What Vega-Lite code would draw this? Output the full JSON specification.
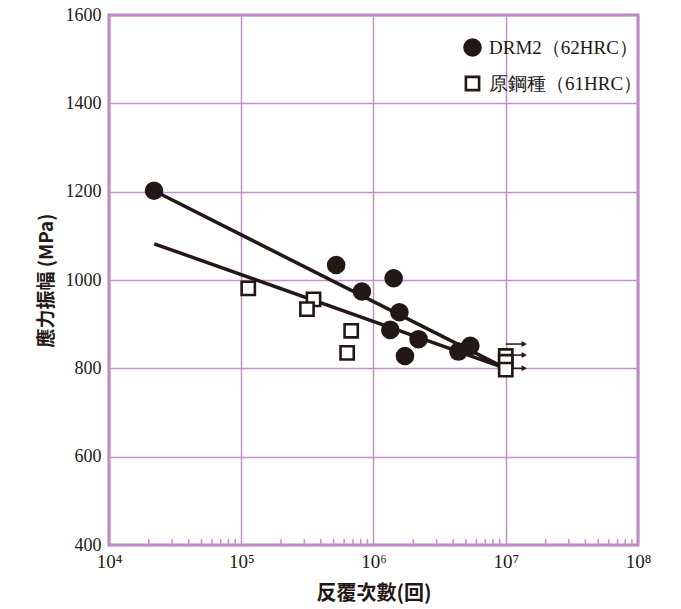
{
  "$schema": "https://vega.github.io/schema/vega-lite/v6.json",
  "width": 529,
  "height": 530,
  "autosize": {"type": "none"},
  "padding": {"left": 109, "top": 15, "right": 43, "bottom": 64},
  "background": "white",
  "datasets": {
    "points": [
      {"N": 21900, "S": 1202, "material": "DRM2（62HRC）"},
      {"N": 522000, "S": 1034, "material": "DRM2（62HRC）"},
      {"N": 1420000, "S": 1004, "material": "DRM2（62HRC）"},
      {"N": 817000, "S": 974, "material": "DRM2（62HRC）"},
      {"N": 1570000, "S": 927, "material": "DRM2（62HRC）"},
      {"N": 1340000, "S": 887, "material": "DRM2（62HRC）"},
      {"N": 2190000, "S": 866, "material": "DRM2（62HRC）"},
      {"N": 1730000, "S": 828, "material": "DRM2（62HRC）"},
      {"N": 5400000, "S": 851, "material": "DRM2（62HRC）"},
      {"N": 4390000, "S": 838, "material": "DRM2（62HRC）"},
      {"N": 113000, "S": 981, "material": "原鋼種（61HRC）"},
      {"N": 352000, "S": 956, "material": "原鋼種（61HRC）"},
      {"N": 314000, "S": 934, "material": "原鋼種（61HRC）"},
      {"N": 678000, "S": 885, "material": "原鋼種（61HRC）"},
      {"N": 632000, "S": 835, "material": "原鋼種（61HRC）"},
      {"N": 10000000, "S": 828, "material": "原鋼種（61HRC）"},
      {"N": 10000000, "S": 815, "material": "原鋼種（61HRC）"},
      {"N": 10000000, "S": 797, "material": "原鋼種（61HRC）"}
    ],
    "fits": [
      {"N": 21900, "S": 1202, "line": "DRM2"},
      {"N": 10000000, "S": 800, "line": "DRM2"},
      {"N": 22000, "S": 1082, "line": "base"},
      {"N": 10000000, "S": 800, "line": "base"}
    ],
    "arrows": [
      {"N": 10000000, "N1": 13800000, "S": 855},
      {"N": 10000000, "N1": 13800000, "S": 830},
      {"N": 10000000, "N1": 13800000, "S": 800}
    ],
    "minor": [
      {"N": 20000}, {"N": 30000}, {"N": 40000}, {"N": 50000}, {"N": 60000}, {"N": 70000}, {"N": 80000}, {"N": 90000},
      {"N": 200000}, {"N": 300000}, {"N": 400000}, {"N": 500000}, {"N": 600000}, {"N": 700000}, {"N": 800000}, {"N": 900000},
      {"N": 2000000}, {"N": 3000000}, {"N": 4000000}, {"N": 5000000}, {"N": 6000000}, {"N": 7000000}, {"N": 8000000}, {"N": 9000000},
      {"N": 20000000}, {"N": 30000000}, {"N": 40000000}, {"N": 50000000}, {"N": 60000000}, {"N": 70000000}, {"N": 80000000}, {"N": 90000000}
    ]
  },
  "layer": [
    {
      "data": {"name": "minor"},
      "mark": {"type": "rule", "color": "#c291ca", "strokeWidth": 1.5},
      "encoding": {
        "x": {
          "field": "N", "type": "quantitative",
          "scale": {"type": "log", "domain": [10000, 100000000]},
          "axis": {
            "title": "反覆次數(回)",
            "values": [10000, 100000, 1000000, 10000000, 100000000],
            "labelExpr": "'10' + ['⁰','¹','²','³','⁴','⁵','⁶','⁷','⁸'][round(log(datum.value)/LN10)]",
            "labelFont": "Liberation Serif",
            "labelFontSize": 19,
            "labelColor": "#231815",
            "labelPadding": 7,
            "titleFont": "Noto Sans CJK TC",
            "titleFontWeight": "bold",
            "titleFontSize": 20,
            "titleColor": "#231815",
            "titlePadding": 12,
            "grid": true,
            "labelFlush": false,
            "labelOverlap": false
          }
        },
        "y": {
          "datum": 400, "type": "quantitative",
          "scale": {"domain": [400, 1600]},
          "axis": {
            "title": "應力振幅 (MPa)",
            "values": [400, 600, 800, 1000, 1200, 1400, 1600],
            "format": "d",
            "labelFont": "Liberation Serif",
            "labelFontSize": 18,
            "labelColor": "#231815",
            "labelPadding": 8,
            "titleFont": "Noto Sans CJK TC",
            "titleFontWeight": "bold",
            "titleFontSize": 19,
            "titleColor": "#231815",
            "titlePadding": 9,
            "grid": true,
            "labelFlush": false,
            "labelOverlap": false
          }
        },
        "y2": {"datum": 413.5}
      }
    },
    {
      "data": {"name": "fits"},
      "mark": {"type": "line", "color": "#231815", "strokeWidth": 3.5},
      "encoding": {
        "x": {"field": "N", "type": "quantitative"},
        "y": {"field": "S", "type": "quantitative"},
        "detail": {"field": "line"}
      }
    },
    {
      "data": {"name": "arrows"},
      "mark": {"type": "rule", "color": "#231815", "strokeWidth": 1.5},
      "encoding": {
        "x": {"field": "N", "type": "quantitative"},
        "x2": {"field": "N1"},
        "y": {"field": "S", "type": "quantitative"}
      }
    },
    {
      "data": {"name": "arrows"},
      "mark": {"type": "point", "shape": "triangle-right", "filled": true, "color": "#231815", "size": 36, "opacity": 1},
      "encoding": {
        "x": {"field": "N1", "type": "quantitative"},
        "y": {"field": "S", "type": "quantitative"}
      }
    },
    {
      "data": {"name": "points"},
      "mark": {"type": "point", "filled": true, "strokeWidth": 2.6, "opacity": 1},
      "encoding": {
        "x": {"field": "N", "type": "quantitative"},
        "y": {"field": "S", "type": "quantitative"},
        "shape": {
          "field": "material", "type": "nominal",
          "scale": {"domain": ["DRM2（62HRC）", "原鋼種（61HRC）"], "range": ["circle", "square"]}
        },
        "fill": {
          "field": "material", "type": "nominal",
          "scale": {"domain": ["DRM2（62HRC）", "原鋼種（61HRC）"], "range": ["#231815", "#ffffff"]}
        },
        "stroke": {
          "field": "material", "type": "nominal",
          "scale": {"domain": ["DRM2（62HRC）", "原鋼種（61HRC）"], "range": ["#231815", "#231815"]}
        },
        "size": {
          "field": "material", "type": "nominal",
          "scale": {"domain": ["DRM2（62HRC）", "原鋼種（61HRC）"], "range": [256, 175]}
        }
      }
    }
  ],
  "config": {
    "view": {"stroke": "#b683bf", "strokeWidth": 3},
    "axis": {
      "gridColor": "#c291ca",
      "gridWidth": 1.5,
      "gridOpacity": 1,
      "domain": false,
      "ticks": false
    },
    "legend": {
      "orient": "none",
      "legendX": 354,
      "legendY": 23,
      "title": null,
      "labelFont": "Liberation Serif",
      "labelFontSize": 19,
      "labelColor": "#231815",
      "labelOffset": 7,
      "rowPadding": 10,
      "symbolStrokeWidth": 2.6,
      "labelLimit": 300
    }
  }
}
